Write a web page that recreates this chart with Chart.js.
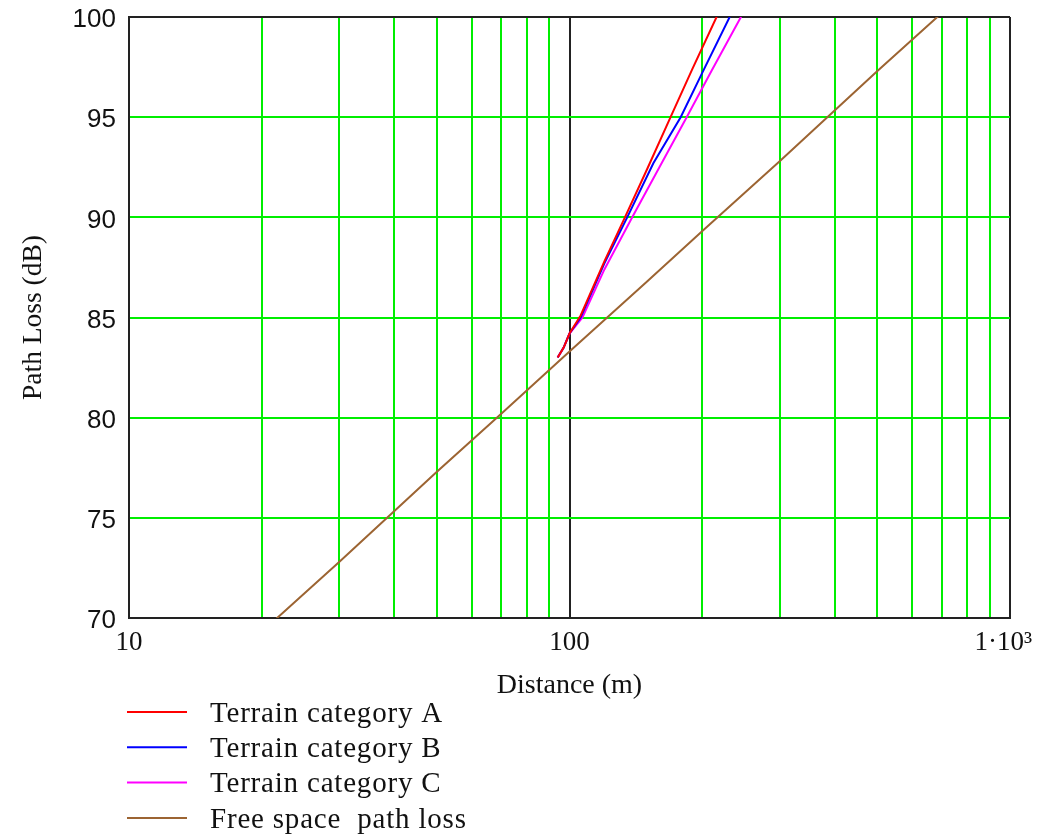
<!DOCTYPE html>
<html>
<head>
<meta charset="utf-8">
<title>Path loss vs distance</title>
<script src="https://cdn.jsdelivr.net/npm/chart.js@4.4.1/dist/chart.umd.min.js"></script>
<style>
  body { margin: 0; background: #fff; }
  #wrap { width: 1038px; height: 838px; }
</style>
</head>
<body>
<div id="wrap"><canvas id="lossChart" width="1038" height="838"></canvas></div>
<script>
// values (distance in m, path loss in dB)
const distA = [94, 97, 100, 106, 120, 133.6, 150, 169.6, 190, 215.7, 230];
const lossA = [83.0, 83.5, 84.2, 85.1, 87.8, 90.0, 92.4, 95.0, 97.4, 100.0, 101.3];

const distB = [94, 97, 100, 106, 120, 135.2, 155, 178.8, 200, 231, 250];
const lossB = [83.0, 83.5, 84.2, 85.0, 87.7, 90.0, 92.7, 95.0, 97.2, 100.0, 101.5];

const distC = [94, 97, 100, 107, 120, 138.8, 160, 184.5, 210, 245, 260];
const lossC = [83.0, 83.5, 84.2, 85.0, 87.4, 90.0, 92.5, 95.0, 97.3, 100.0, 101.1];

const distFree = [20, 30, 50, 70, 100, 150, 200, 300, 500, 700, 1000];
const lossFree = [69.3, 72.8, 77.3, 80.2, 83.3, 86.8, 89.3, 92.8, 97.3, 100.2, 103.3];

const seriesNames = ["Terrain category A", "Terrain category B", "Terrain category C", "Free space  path loss"];
const seriesColors = ["#ff0000", "#0000ff", "#ff00ff", "#9c6432"];

const xGrid = [10, 20, 30, 40, 50, 60, 70, 80, 90, 100, 200, 300, 400, 500, 600, 700, 800, 900, 1000];
// trailing en space nudges the last label left, like the original
const xLabels = { 10: "10", 100: "100", 1000: "1·10³\u2002" };

const GREEN = "#00ee00";
const BLACK = "#222222";

function pts(xs, ys) {
  return xs.map((x, i) => ({ x: x, y: ys[i] }));
}

const legendBelow = {
  id: "legendBelow",
  afterDraw(chart) {
    const ctx = chart.ctx;
    ctx.save();
    ctx.font = "29px 'Liberation Serif'";
    ctx.letterSpacing = "0.8px";
    ctx.textBaseline = "middle";
    ctx.fillStyle = "#111";
    chart.data.datasets.forEach((ds, i) => {
      const y = 712 + i * 35.3;
      ctx.strokeStyle = ds.borderColor;
      ctx.lineWidth = 2;
      ctx.beginPath();
      ctx.moveTo(127, y);
      ctx.lineTo(187, y);
      ctx.stroke();
      ctx.fillText(ds.label, 210, y + 2);
    });
    ctx.restore();
  }
};

const allDist = [distA, distB, distC, distFree];
const allLoss = [lossA, lossB, lossC, lossFree];

new Chart(document.getElementById("lossChart"), {
  type: "line",
  data: {
    datasets: seriesNames.map((name, i) => ({
      label: name,
      data: pts(allDist[i], allLoss[i]),
      borderColor: seriesColors[i],
      backgroundColor: seriesColors[i],
      borderWidth: 2,
      pointRadius: 0,
      tension: 0
    }))
  },
  options: {
    responsive: false,
    animation: false,
    layout: { padding: { left: 0, right: 28, top: 17, bottom: 0 } },
    plugins: {
      legend: { display: false },
      tooltip: { enabled: false }
    },
    scales: {
      x: {
        type: "logarithmic",
        min: 10,
        max: 1000,
        afterBuildTicks: scale => {
          scale.ticks = xGrid.map(v => ({ value: v }));
        },
        afterFit: scale => {
          scale.height = 220;
          scale.paddingLeft = 0;
          scale.paddingRight = 0;
        },
        ticks: {
          autoSkip: false,
          maxRotation: 0,
          padding: 9,
          color: "#111",
          font: { family: "'Liberation Serif'", size: 27 },
          callback: v => xLabels[v] || ""
        },
        grid: {
          drawTicks: false,
          lineWidth: 2,
          color: c => (c.tick && (c.tick.value === 100 || c.tick.value === 1000 || c.tick.value === 10)) ? BLACK : GREEN
        },
        border: { display: true, color: BLACK, width: 2 },
        title: {
          display: true,
          text: "Distance (m)",
          color: "#111",
          font: { family: "'Liberation Serif'", size: 28 },
          padding: { top: 0, bottom: 136 }
        }
      },
      y: {
        min: 70,
        max: 100,
        afterFit: scale => {
          scale.width = 129;
          scale.paddingTop = 0;
          scale.paddingBottom = 0;
        },
        ticks: {
          stepSize: 5,
          padding: 13,
          labelOffset: 3,
          color: "#111",
          font: { family: "'Liberation Sans'", size: 26 }
        },
        grid: {
          drawTicks: false,
          lineWidth: 2,
          color: c => (c.tick && (c.tick.value === 100 || c.tick.value === 70)) ? BLACK : GREEN
        },
        border: { display: true, color: BLACK, width: 2 },
        title: {
          display: true,
          text: "Path Loss (dB)",
          color: "#111",
          font: { family: "'Liberation Serif'", size: 27.5 },
          padding: { top: 17, bottom: 0 }
        }
      }
    }
  },
  plugins: [legendBelow]
});
</script>
</body>
</html>
